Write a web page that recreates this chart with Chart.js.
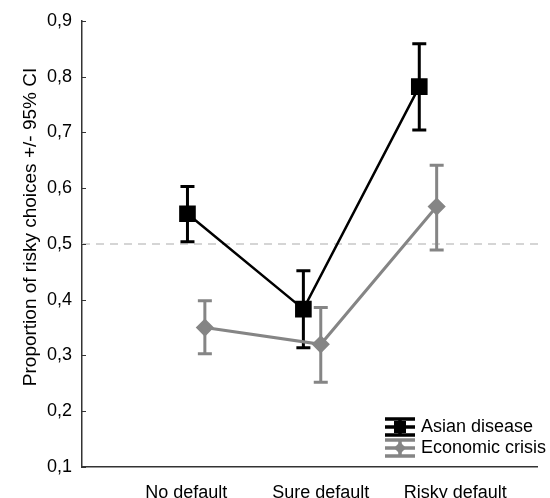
<!DOCTYPE html>
<html>
<head>
<meta charset="utf-8">
<script src="https://cdn.jsdelivr.net/npm/chart.js@4/dist/chart.umd.min.js"></script>
<style>
  html, body { margin: 0; padding: 0; background: #fff; }
  #wrap { width: 550px; height: 498px; }
</style>
</head>
<body>
<div id="wrap"><canvas id="chart" width="550" height="498"></canvas></div>
<script>
// categories and where their labels sit on the x scale
const categories = ['No default', 'Sure default', 'Risky default'];
const labelPos = [0.99, 2.15, 3.31];

// x positions of the points (the two series are dodged a little)
const asianX = [1, 2, 3];
const econX = [1.15, 2.15, 3.15];

// means and 95% CI bounds
const asianMean = [0.554, 0.383, 0.782];
const asianLow = [0.504, 0.314, 0.704];
const asianHigh = [0.603, 0.452, 0.859];

const econMean = [0.350, 0.320, 0.567];
const econLow = [0.303, 0.252, 0.489];
const econHigh = [0.398, 0.386, 0.641];

const yTicks = [0.1, 0.2, 0.3, 0.4, 0.5, 0.6, 0.7, 0.8, 0.9];
const refLine = 0.5;
const yTitle = 'Proportion of risky choices +/- 95% CI';
const FONT = '"Liberation Sans", Arial, sans-serif';

const toPts = (xs, ys) => xs.map((x, i) => ({ x: x, y: ys[i] }));

// error bars, reference line, inside tick marks, axis title and legend
const extras = {
  id: 'extras',
  beforeDatasetsDraw(chart) {
    const { ctx, chartArea, scales } = chart;
    const y = scales.y.getPixelForValue(refLine);
    ctx.save();
    ctx.strokeStyle = '#c8c8c8';
    ctx.lineWidth = 1.5;
    ctx.setLineDash([8, 6]);
    ctx.beginPath();
    ctx.moveTo(chartArea.left, y);
    ctx.lineTo(chartArea.right + 5, y);
    ctx.stroke();
    ctx.setLineDash([]);

    // inside tick marks on y
    ctx.strokeStyle = '#333';
    ctx.lineWidth = 1;
    yTicks.forEach(v => {
      const py = Math.round(scales.y.getPixelForValue(v)) + 0.5;
      ctx.beginPath();
      ctx.moveTo(chartArea.left, py);
      ctx.lineTo(chartArea.left + 4, py);
      ctx.stroke();
    });

    const bars = [
      { xs: asianX, lo: asianLow, hi: asianHigh, color: '#000' },
      { xs: econX, lo: econLow, hi: econHigh, color: '#858585' }
    ];
    bars.forEach(b => {
      ctx.strokeStyle = b.color;
      ctx.lineWidth = 3;
      b.xs.forEach((xv, i) => {
        const px = scales.x.getPixelForValue(xv);
        const p1 = scales.y.getPixelForValue(b.lo[i]);
        const p2 = scales.y.getPixelForValue(b.hi[i]);
        ctx.beginPath();
        ctx.moveTo(px, p1); ctx.lineTo(px, p2);
        ctx.moveTo(px - 7, p1); ctx.lineTo(px + 7, p1);
        ctx.moveTo(px - 7, p2); ctx.lineTo(px + 7, p2);
        ctx.stroke();
      });
    });

    // y axis title
    ctx.fillStyle = '#000';
    ctx.font = '19px ' + FONT;
    ctx.textAlign = 'center';
    ctx.textBaseline = 'middle';
    ctx.translate(31, 227);
    ctx.rotate(-Math.PI / 2);
    ctx.fillText(yTitle, 0, 0);
    ctx.restore();
  },
  afterDraw(chart) {
    const { ctx } = chart;
    ctx.save();
    const items = [
      { text: 'Asian disease', color: '#000', y: 427, shape: 'rect' },
      { text: 'Economic crisis', color: '#858585', y: 448, shape: 'diamond' }
    ];
    items.forEach(it => {
      const cx = 400;
      ctx.strokeStyle = it.color;
      ctx.fillStyle = it.color;
      ctx.lineWidth = 3.5;
      ctx.beginPath();
      ctx.moveTo(cx, it.y - 8); ctx.lineTo(cx, it.y + 8);
      ctx.moveTo(cx - 15, it.y - 8); ctx.lineTo(cx + 15, it.y - 8);
      ctx.moveTo(cx - 15, it.y + 8); ctx.lineTo(cx + 15, it.y + 8);
      ctx.moveTo(cx - 15, it.y); ctx.lineTo(cx + 15, it.y);
      ctx.stroke();
      if (it.shape === 'rect') {
        ctx.fillRect(cx - 6, it.y - 6, 12, 12);
      } else {
        ctx.beginPath();
        ctx.moveTo(cx, it.y - 6); ctx.lineTo(cx + 6, it.y);
        ctx.lineTo(cx, it.y + 6); ctx.lineTo(cx - 6, it.y);
        ctx.closePath(); ctx.fill();
      }
      ctx.fillStyle = '#000';
      ctx.font = '18px ' + FONT;
      ctx.textBaseline = 'middle';
      ctx.textAlign = 'left';
      ctx.fillText(it.text, 421, it.y);
    });
    ctx.restore();
  }
};

new Chart(document.getElementById('chart'), {
  type: 'line',
  data: {
    datasets: [
      {
        label: 'Asian disease',
        data: toPts(asianX, asianMean),
        borderColor: '#000',
        backgroundColor: '#000',
        borderWidth: 2.5,
        pointStyle: 'rect',
        pointRadius: 10,
        pointHoverRadius: 10
      },
      {
        label: 'Economic crisis',
        data: toPts(econX, econMean),
        borderColor: '#858585',
        backgroundColor: '#858585',
        borderWidth: 3,
        pointStyle: 'rectRot',
        pointRadius: 7,
        pointHoverRadius: 7
      }
    ]
  },
  options: {
    responsive: false,
    animation: false,
    layout: { padding: { top: 17, right: 10, left: 0, bottom: 0 } },
    plugins: { legend: { display: false }, tooltip: { enabled: false } },
    scales: {
      x: {
        type: 'linear',
        min: 0.09,
        max: 4.02,
        afterBuildTicks: s => { s.ticks = labelPos.map(v => ({ value: v })); },
        afterFit: s => { s.height = 31; },
        ticks: {
          autoSkip: false,
          maxRotation: 0,
          padding: 15,
          color: '#000',
          font: { size: 18, family: FONT },
          callback: (v, i) => categories[i]
        },
        grid: { display: false, drawTicks: false },
        border: { color: '#333', width: 1.5 }
      },
      y: {
        min: 0.1,
        max: 0.9,
        afterBuildTicks: s => { s.ticks = yTicks.map(v => ({ value: v })); },
        afterFit: s => { s.width = 82; },
        ticks: {
          padding: 10,
          color: '#000',
          font: { size: 18, family: FONT },
          callback: v => v.toFixed(1).replace('.', ',')
        },
        grid: { display: false, drawTicks: false },
        border: { color: '#333', width: 1.5 }
      }
    }
  },
  plugins: [extras]
});
</script>
